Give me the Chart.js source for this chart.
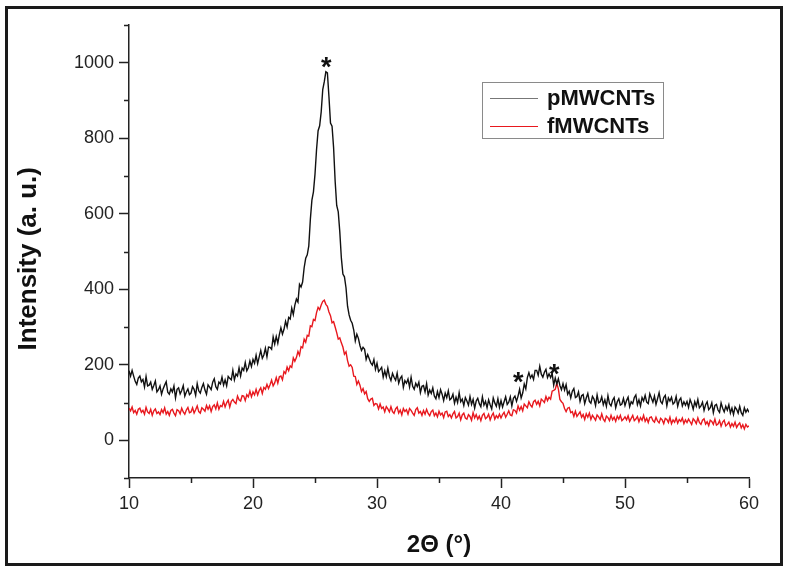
<!DOCTYPE html>
<html>
<head>
<meta charset="utf-8">
<title>XRD pMWCNTs / fMWCNTs</title>
<script src="https://cdn.jsdelivr.net/npm/chart.js@4.4.1/dist/chart.umd.min.js"></script>
<style>
  body { margin: 0; background: #fff; }
  #wrap { width: 790px; height: 572px; }
</style>
</head>
<body>
<div id="wrap"><canvas id="xrd" width="790" height="572"></canvas></div>
<script>
// scan runs from 10 to 60 degrees in 0.125 degree steps
var startAngle = 10;
var angleStep = 0.125;

// pMWCNTs intensity (one row = 5 degrees)
var pIntensity = [
    184,170,185,170,156,148,165,170,155,161,141,169,144,146,154,135,145,157,128,134,144,122,136,146,155,127,122,136,128,144,112,135,139,123,132,145,117,128,136,121,
    125,142,135,119,150,131,125,140,150,133,122,147,141,134,154,163,142,135,154,149,167,146,160,144,169,164,160,185,160,176,170,192,170,191,185,206,184,192,210,195,
    214,204,225,203,221,238,217,226,244,221,247,246,241,274,255,275,257,280,298,281,294,315,300,325,321,350,333,358,374,366,413,406,419,457,482,491,515,585,636,658,
    705,770,820,833,870,929,950,976,973,910,840,832,775,686,622,605,552,483,440,433,404,355,332,318,310,292,263,281,270,251,238,246,241,214,227,216,205,199,214,188,
    204,182,187,193,167,184,168,191,169,158,177,167,159,178,151,164,170,140,158,151,162,141,167,143,135,151,142,154,126,143,145,128,150,120,133,124,139,117,110,129,
    113,134,122,105,125,113,131,107,111,122,98,114,100,126,102,109,92,113,104,93,116,95,108,85,104,111,97,89,115,93,103,86,107,94,83,112,99,90,110,87,
    105,88,102,115,95,101,115,91,111,117,103,117,135,112,125,149,136,166,179,165,173,161,185,185,172,196,175,167,180,188,166,176,166,177,146,165,149,163,145,134,
    150,133,147,122,130,112,130,137,113,116,128,103,118,121,97,112,124,103,98,116,109,92,120,99,102,115,94,107,90,118,97,91,106,113,86,102,110,93,96,111,
    92,105,114,89,102,97,113,120,94,107,91,113,104,119,101,97,123,112,101,117,95,110,126,103,97,113,119,91,112,104,114,96,100,116,90,106,112,91,102,93,
    103,87,108,97,82,102,90,108,86,91,101,79,94,102,81,86,99,73,92,95,80,74,99,85,75,90,80,94,72,85,68,88,82,72,90,73,66,86,74,82,
    74
];

// fMWCNTs intensity
var fIntensity = [
    85,78,88,73,79,69,82,85,74,79,69,87,75,71,82,66,78,83,71,75,68,81,73,86,69,76,66,79,82,72,65,81,78,70,85,75,69,80,87,73,
    75,86,72,81,91,76,72,86,82,77,92,82,91,76,89,94,83,99,82,92,89,103,88,99,106,88,103,108,101,97,117,107,104,118,117,105,121,115,130,115,
    128,120,135,120,132,139,124,140,135,148,137,147,159,144,152,166,151,168,170,160,182,177,194,184,197,193,218,209,219,235,225,248,245,268,260,278,276,303,301,320,
    317,338,352,346,358,368,371,360,355,340,330,311,314,300,285,268,271,258,247,228,234,211,196,200,193,170,169,148,157,146,129,137,123,129,110,103,109,111,92,97,
    96,83,96,84,88,75,89,83,75,89,76,71,83,88,72,80,67,84,76,81,69,84,79,72,66,81,86,72,76,66,79,69,82,71,65,76,80,65,72,62,
    77,67,72,60,75,77,63,68,59,70,76,59,63,72,54,67,72,59,56,68,63,53,73,59,68,56,64,52,66,71,57,61,69,54,65,72,56,65,59,69,
    59,68,74,61,69,78,67,65,81,79,72,91,80,89,78,96,91,86,102,93,88,102,106,95,103,91,109,105,100,116,105,114,109,130,132,135,151,136,108,102,
    98,84,76,85,87,73,76,63,77,63,69,75,61,68,55,70,61,72,55,66,60,53,67,62,55,70,56,50,64,60,52,66,54,61,50,64,56,66,52,56,
    62,54,65,50,58,66,52,56,63,49,60,53,66,50,58,47,60,62,52,48,61,51,46,58,54,44,58,55,47,61,44,54,48,59,45,55,50,59,44,54,
    47,56,49,42,57,52,44,59,47,42,53,57,43,49,39,53,50,42,56,40,43,52,37,48,53,38,42,48,35,44,37,48,34,41,46,33,41,30,42,35,
    38
];

var seriesNames = ["pMWCNTs", "fMWCNTs"];
var seriesColors = ['#111111', '#e8181e'];

// peak markers (angle, intensity)
var starAngles = [25.9, 41.4, 44.3];
var starLevels = [1006, 173, 194];

var yMinorTicks = [-100, 100, 300, 500, 700, 900, 1100];
var xMinorTicks = [15, 25, 35, 45, 55];

function toPoints(values) {
    return values.map(function (v, i) {
        return { x: startAngle + i * angleStep, y: v };
    });
}

var frameAndExtras = {
    id: 'frameAndExtras',
    afterDraw: function (chart) {
        var ctx = chart.ctx;
        var xs = chart.scales.x, ys = chart.scales.y;
        ctx.save();

        // minor ticks
        ctx.strokeStyle = '#222';
        ctx.lineWidth = 1.5;
        ctx.beginPath();
        yMinorTicks.forEach(function (v) {
            var py = Math.round(ys.getPixelForValue(v)) + 0.5;
            ctx.moveTo(xs.left - 5, py);
            ctx.lineTo(xs.left, py);
        });
        xMinorTicks.forEach(function (v) {
            var px = Math.round(xs.getPixelForValue(v)) + 0.5;
            ctx.moveTo(px, ys.bottom);
            ctx.lineTo(px, ys.bottom + 5);
        });
        ctx.stroke();

        // asterisks over the peaks
        ctx.fillStyle = '#111';
        ctx.font = 'bold 27px "Liberation Sans", Arial, sans-serif';
        ctx.textAlign = 'center';
        ctx.textBaseline = 'alphabetic';
        starAngles.forEach(function (a, i) {
            ctx.fillText('*', xs.getPixelForValue(a), ys.getPixelForValue(starLevels[i]) + 16);
        });

        // legend box
        ctx.strokeStyle = '#8a8a8a';
        ctx.lineWidth = 1;
        ctx.strokeRect(482.5, 82.5, 181, 56);
        ctx.font = 'bold 22px "Liberation Sans", Arial, sans-serif';
        ctx.textAlign = 'left';
        ctx.textBaseline = 'middle';
        chart.data.datasets.forEach(function (ds, i) {
            var ly = 98 + i * 28;
            ctx.strokeStyle = i === 0 ? '#777' : ds.borderColor;
            ctx.lineWidth = 1.2;
            ctx.beginPath();
            ctx.moveTo(490, ly + 0.5);
            ctx.lineTo(538, ly + 0.5);
            ctx.stroke();
            ctx.fillStyle = '#111';
            ctx.fillText(ds.label, 547, ly + 1);
        });

        // outer frame
        ctx.strokeStyle = '#1a1a1a';
        ctx.lineWidth = 3;
        ctx.strokeRect(6.5, 7.5, 775, 557);
        ctx.restore();
    }
};

var xrdChart = new Chart(document.getElementById('xrd').getContext('2d'), {
    type: 'line',
    data: {
        datasets: [{
            label: seriesNames[0],
            data: toPoints(pIntensity),
            borderColor: seriesColors[0],
            borderWidth: 1.4,
            pointRadius: 0,
            tension: 0
        }, {
            label: seriesNames[1],
            data: toPoints(fIntensity),
            borderColor: seriesColors[1],
            borderWidth: 1.4,
            pointRadius: 0,
            tension: 0
        }]
    },
    plugins: [frameAndExtras],
    options: {
        responsive: false,
        animation: false,
        layout: { padding: { left: 0, right: 41, top: 25, bottom: 0 } },
        plugins: {
            legend: { display: false },
            tooltip: { enabled: false }
        },
        scales: {
            x: {
                type: 'linear',
                min: 10,
                max: 60,
                afterFit: function (scale) { scale.height = 94; },
                ticks: {
                    stepSize: 10,
                    padding: 5,
                    color: '#222',
                    font: { family: '"Liberation Sans", Arial, sans-serif', size: 18 }
                },
                grid: { drawOnChartArea: false, tickLength: 10, tickColor: '#222', tickWidth: 1.5 },
                border: { color: '#222', width: 1.5 },
                title: {
                    display: true,
                    text: '2\u0398 (\u00B0)',
                    color: '#111',
                    padding: { top: 0, bottom: 12 },
                    font: { family: '"Liberation Sans", Arial, sans-serif', size: 24, weight: 'bold' }
                }
            },
            y: {
                min: -100,
                max: 1100,
                afterFit: function (scale) { scale.width = 129; },
                ticks: {
                    stepSize: 100,
                    padding: 5,
                    color: '#222',
                    font: { family: '"Liberation Sans", Arial, sans-serif', size: 18 },
                    callback: function (v) {
                        return (v >= 0 && v <= 1000 && v % 200 === 0) ? v : '';
                    }
                },
                grid: {
                    drawOnChartArea: false,
                    tickLength: 10,
                    tickWidth: 1.5,
                    tickColor: function (c) {
                        var v = c.tick ? c.tick.value : 0;
                        return (v >= 0 && v <= 1000 && v % 200 === 0) ? '#222' : 'rgba(0,0,0,0)';
                    }
                },
                border: { color: '#222', width: 1.5 },
                title: {
                    display: true,
                    text: 'Intensity (a. u.)  ',
                    color: '#111',
                    padding: { top: 13, bottom: 0 },
                    font: { family: '"Liberation Sans", Arial, sans-serif', size: 26, weight: 'bold' }
                }
            }
        }
    }
});
</script>
</body>
</html>
